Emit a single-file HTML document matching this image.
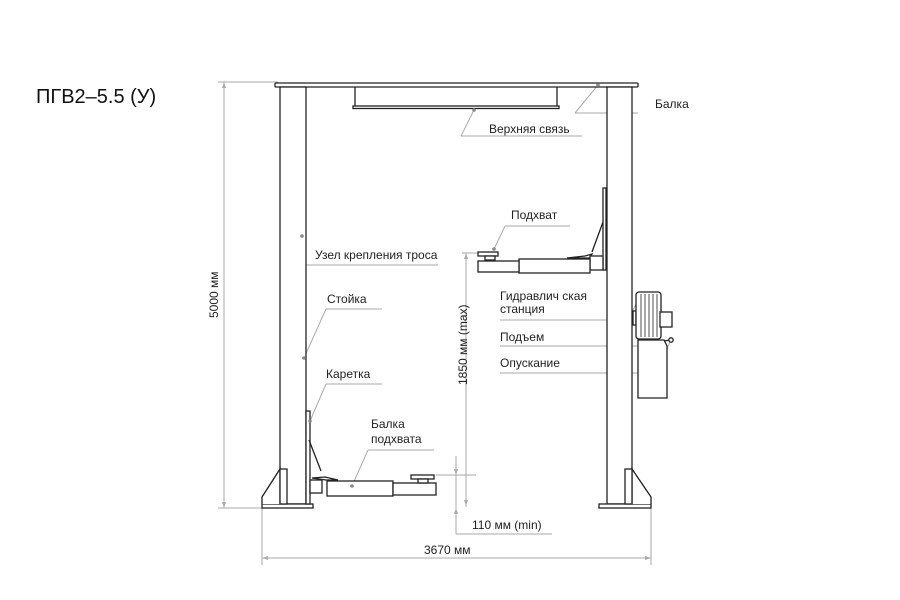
<!DOCTYPE html>
<html><head><meta charset="utf-8"><style>
html,body{margin:0;padding:0;background:#fff;}
svg{display:block;font-family:"Liberation Sans","DejaVu Sans",sans-serif;}
</style></head><body>
<svg width="900" height="600" viewBox="0 0 900 600">
<defs>
<marker id="a" markerWidth="6" markerHeight="6" refX="3" refY="0" orient="auto"><path d="M0,0 L6,0" /></marker>
</defs>
<text x="36" y="103" font-size="20" fill="#111">ПГВ2–5.5 (У)</text>

<g fill="none" stroke="#aaa" stroke-width="1">
<!-- 5000 dim -->
<line x1="224" y1="82" x2="224" y2="508"/>
<line x1="218" y1="82" x2="278" y2="82"/>
<line x1="218" y1="508" x2="262" y2="508"/>
<!-- 3670 -->
<line x1="262" y1="508" x2="262" y2="565"/>
<line x1="651" y1="508" x2="651" y2="565"/>
<line x1="262" y1="558" x2="651" y2="558"/>
<!-- 1850 -->
<line x1="466" y1="253" x2="466" y2="507"/>
<line x1="462" y1="253" x2="487" y2="253"/>
<!-- 110 -->
<line x1="456" y1="456" x2="456" y2="534"/>
<line x1="436" y1="475" x2="476" y2="475"/>
<line x1="456" y1="534" x2="552" y2="534"/>
<!-- leaders -->
<line x1="598" y1="85" x2="575" y2="113"/><line x1="575" y1="113" x2="638" y2="113"/>
<line x1="474" y1="110" x2="461" y2="136"/><line x1="461" y1="136" x2="582" y2="136"/>
<line x1="302" y1="236" x2="290" y2="265"/><line x1="290" y1="265" x2="438" y2="265"/>
<line x1="304" y1="358" x2="326" y2="309"/><line x1="326" y1="309" x2="382" y2="309"/>
<line x1="310" y1="421" x2="326" y2="384"/><line x1="326" y1="384" x2="382" y2="384"/>
<line x1="352" y1="486" x2="368" y2="450"/><line x1="368" y1="450" x2="434" y2="450"/>
<line x1="494" y1="249" x2="505" y2="226"/><line x1="505" y1="226" x2="570" y2="226"/>
<line x1="500" y1="320" x2="628" y2="320"/><line x1="628" y1="320" x2="638" y2="300"/>
<line x1="500" y1="346" x2="638" y2="346"/><line x1="638" y1="346" x2="640" y2="340"/>
<line x1="500" y1="373" x2="655" y2="373"/><line x1="655" y1="373" x2="670" y2="342"/>
</g>
<g fill="#aaa"><path d="M224,82 l-2,6 h4z"/><path d="M224,508 l-2,-6 h4z"/><path d="M262,558 l6,-2 v4z"/><path d="M651,558 l-6,-2 v4z"/><path d="M466,253 l-2,6 h4z"/><path d="M466,506 l-2,-6 h4z"/><path d="M456,475 l-2,-6 h4z"/><path d="M456,508 l-2,6 h4z"/></g>

<g fill="#fff" stroke="#222" stroke-width="1.3">
<!-- top beam -->
<rect x="275" y="83" width="363" height="4" rx="1"/>
<line x1="355" y1="87" x2="355" y2="106"/><line x1="557" y1="87" x2="557" y2="106"/>
<rect x="353" y="106" width="206" height="2.5"/>
<!-- columns -->
<rect x="280" y="87" width="26" height="417"/>
<rect x="607" y="87" width="25" height="417"/>
<!-- left base -->
<rect x="262" y="504" width="51" height="4"/>
<path d="M262,504 V497 L280,469 V504"/>
<rect x="280" y="469" width="7" height="35"/>
<rect x="599" y="504" width="52" height="4"/>
<path d="M651,504 V497 L632,469 V504"/>
<rect x="625" y="469" width="7" height="35"/>
<!-- left carriage -->
<rect x="306" y="411" width="4" height="93"/>
<line x1="309" y1="440" x2="321" y2="471"/>
<path d="M312,478 L325,477 L338,480 L326,480 Z"/>
<rect x="310" y="480" width="12" height="13"/>
<rect x="327" y="481" width="66" height="15"/>
<rect x="393" y="483" width="43" height="12"/>
<rect x="411" y="475" width="23" height="4"/>
<rect x="418" y="479" width="10" height="4"/>
<!-- right carriage -->
<rect x="603" y="188" width="3" height="82"/>
<line x1="603" y1="222" x2="592" y2="252"/>
<path d="M567,258 L585,256 L592,254 L590,258 Z"/>
<rect x="590" y="256" width="13" height="14"/>
<rect x="519" y="259" width="71" height="14"/>
<rect x="478" y="261" width="41" height="11"/>
<rect x="478" y="252" width="20" height="4"/>
<rect x="485" y="256" width="10" height="4"/>
<!-- hydraulic -->
<rect x="633" y="311" width="3" height="14"/>
<rect x="636" y="292" width="25" height="47" rx="3"/>
<g stroke-width="0.8"><line x1="641" y1="294" x2="641" y2="337"/><line x1="645" y1="294" x2="645" y2="337"/><line x1="649" y1="294" x2="649" y2="337"/><line x1="653" y1="294" x2="653" y2="337"/><line x1="657" y1="294" x2="657" y2="337"/></g>
<rect x="660" y="312" width="12" height="15"/>
<path d="M638,340 H664 L667,346 V398 H638 Z"/>
<line x1="664" y1="341" x2="670" y2="340"/>
<circle cx="671" cy="340" r="2.2"/>
</g>
<g fill="#888"><circle cx="598" cy="85" r="1.8"/><circle cx="474" cy="110" r="1.8"/><circle cx="302" cy="236" r="1.8"/><circle cx="304" cy="358" r="1.8"/><circle cx="310" cy="421" r="1.8"/><circle cx="352" cy="486" r="1.8"/><circle cx="494" cy="249" r="1.8"/></g>

<g font-size="12" fill="#222">
<text x="655" y="108">Балка</text>
<text x="489" y="133">Верхняя связь</text>
<text x="511" y="219">Подхват</text>
<text x="315" y="259">Узел крепления троса</text>
<text x="327" y="303">Стойка</text>
<text x="326" y="378">Каретка</text>
<text x="371" y="428">Балка</text>
<text x="371" y="443">подхвата</text>
<text x="500" y="300">Гидравлич  ская</text>
<text x="500" y="313">станция</text>
<text x="500" y="341">Подъем</text>
<text x="500" y="367">Опускание</text>
<text x="472" y="529">110 мм (min)</text>
<text x="424" y="554">3670 мм</text>
<text transform="translate(218,318) rotate(-90)">5000 мм</text>
<text transform="translate(467,385) rotate(-90)">1850 мм (max)</text>
</g>
</svg>
</body></html>
